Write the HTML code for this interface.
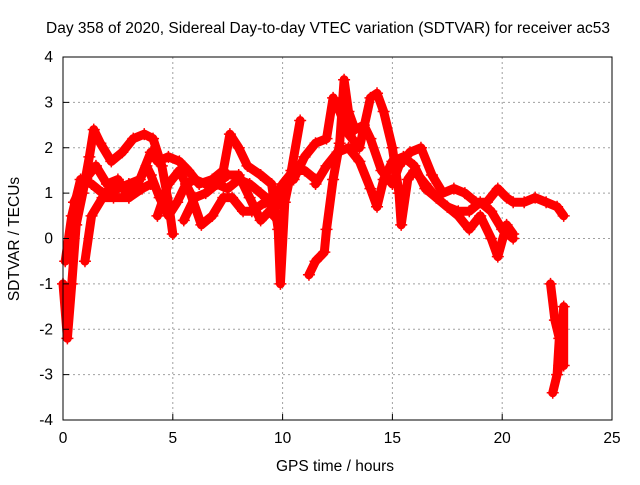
<!DOCTYPE html>
<html><head><meta charset="utf-8"><style>
body{margin:0;background:#fff}
svg text{font-family:"Liberation Sans",sans-serif;font-size:15.5px;fill:#000}
</style></head><body>
<svg id="chart" width="640" height="480" xmlns="http://www.w3.org/2000/svg">
<rect x="0" y="0" width="640" height="480" fill="#fff"/>
<g id="grid"></g>
<g id="series"></g>
<rect x="63" y="57" width="549" height="363" fill="none" stroke="#000" stroke-width="1"/>
<g id="axes"></g>
<text x="328" y="33" text-anchor="middle">Day 358 of 2020, Sidereal Day-to-day VTEC variation (SDTVAR) for receiver ac53</text>
<text x="335" y="471" text-anchor="middle">GPS time / hours</text>
<text x="0" y="0" text-anchor="middle" transform="translate(19,239) rotate(-90)">SDTVAR / TECUs</text>
</svg>
<script>
const xTicks=[0,5,10,15,20,25];
const yTicks=[-4,-3,-2,-1,0,1,2,3,4];
const track1=[[0,-1],[0.2,-2.2],[0.4,-1],[0.6,0.3],[0.9,1.0],[1.2,1.8],[1.4,2.4],[1.7,2.1],[2.2,1.7],[2.7,1.9],[3.2,2.2],[3.7,2.3],[4.1,2.2],[4.5,1.6],[4.8,0.8],[5.0,0.1]];
const track2=[[0.1,-0.5],[0.4,0.5],[0.8,1.3],[1.3,1.2],[1.8,1.0],[2.5,1.1],[3.0,1.2],[3.5,1.3],[4.0,1.9],[4.3,1.7],[4.8,1.8],[5.3,1.7],[5.7,1.5],[6.2,1.2],[6.8,1.3],[7.3,1.5],[7.6,2.3],[8.0,2.0],[8.4,1.6],[9.0,1.4],[9.5,1.2],[9.8,0.2],[9.9,-1.0],[10.1,0.8],[10.4,1.5],[10.8,2.6]];
const track3=[[1.0,-0.5],[1.3,0.5],[1.8,0.9],[2.3,0.9],[3.0,0.9],[3.4,1.2],[3.8,1.6],[4.0,1.4],[4.4,0.9],[4.8,0.5],[5.2,0.8],[5.6,1.2],[6.0,1.3],[6.5,1.2],[7.0,1.2],[7.5,1.1],[8.0,1.3],[8.5,1.2],[9.0,1.0],[9.5,0.8],[10,1.2],[10.5,1.5],[11.0,1.5],[11.5,1.3]];
const track4=[[4.3,0.5],[4.8,1.2],[5.3,1.5],[5.8,1.0],[6.3,0.3],[6.8,0.5],[7.3,0.9],[7.7,0.9],[8.2,0.6],[8.6,0.6],[9.2,0.8],[9.7,0.7],[10.0,1.0]];
const track5=[[5.5,0.4],[6.0,0.9],[6.5,1.0],[7.0,1.2],[7.5,1.4],[8.0,1.4],[8.5,0.9],[9.0,0.4],[9.4,0.6],[9.8,0.4]];
const track6=[[11.2,-0.8],[11.5,-0.5],[11.9,-0.3],[12.0,0.2],[12.3,1.3],[12.6,2.1],[12.8,3.5],[13.0,2.8],[13.3,2.4],[13.7,2.5],[14.0,2.2],[14.5,1.5],[15.0,1.2],[15.3,1.6],[15.8,1.9],[16.3,2.0],[16.8,1.4],[17.3,1.0],[17.8,1.1],[18.3,1.0],[18.8,0.8],[19.3,0.8],[19.8,1.1],[20.2,0.9],[20.5,0.8],[21,0.8],[21.5,0.9],[22,0.8],[22.5,0.7],[22.8,0.5]];
const track7=[[10.5,1.3],[11,1.8],[11.5,2.1],[12,2.2],[12.3,3.1],[12.6,2.8],[13.0,2.3],[13.5,2.0],[14.0,3.1],[14.3,3.2],[14.6,2.8],[15.0,2.0],[15.3,1.0],[15.4,0.3],[15.7,1.3],[16.0,1.5],[16.5,1.2],[17.0,0.9],[17.5,0.7],[18.0,0.5],[18.5,0.2],[19.0,0.5],[19.5,0.0],[19.8,-0.4],[20.2,0.3],[20.5,0.1]];
const track8=[[11.5,1.2],[12,1.6],[12.5,1.9],[13,2.0],[13.5,1.7],[14,1.1],[14.3,0.7],[14.6,1.3],[15,1.7],[15.5,1.8],[16,1.6],[16.5,1.1],[17,0.9],[17.5,0.7],[18,0.6],[18.5,0.6],[19,0.8],[19.5,0.6],[20,0.2],[20.5,0.0]];
const track9=[[22.2,-1.0],[22.4,-1.8],[22.6,-2.2],[22.5,-3.0],[22.3,-3.4],[22.6,-2.8],[22.7,-2.5],[22.8,-1.5],[22.8,-2.8]];
const track10=[[0.5,0.8],[1,1.3],[1.5,1.6],[2,1.2],[2.5,1.3],[3,0.9],[3.6,1.1],[4,1.2]];
const tracks=[track1,track2,track3,track4,track5,track6,track7,track8,track9,track10];
const NS="http://www.w3.org/2000/svg";
const X=v=>63+v*(549/25), Y=v=>238.5-v*(363/8);
const grid=document.getElementById('grid'),axes=document.getElementById('axes'),ser=document.getElementById('series');
function mk(t,a,p){const e=document.createElementNS(NS,t);for(const k in a)e.setAttribute(k,a[k]);p.appendChild(e);return e;}
xTicks.forEach(v=>{
 if(v>0&&v<25){const g=mk('line',{x1:X(v),x2:X(v),y1:57,y2:420,stroke:'#a0a0a0','stroke-dasharray':'2,3'},grid);
 
 }
 const t=mk('text',{x:X(v),y:443,'text-anchor':'middle'},axes);t.textContent=v;
 
 
 const l1=mk('line',{x1:X(v),x2:X(v),y1:420,y2:414,stroke:'#000'},axes);
 
 
});
yTicks.forEach(v=>{
 if(v>-4&&v<4){const g=mk('line',{x1:63,x2:612,y1:Y(v),y2:Y(v),stroke:'#a0a0a0','stroke-dasharray':'2,3'},grid);
 
 }
 const t=mk('text',{x:53,y:Y(v)+5,'text-anchor':'end'},axes);t.textContent=v;
 
 
 const l1=mk('line',{x1:63,x2:69,y1:Y(v),y2:Y(v),stroke:'#000'},axes);
 
 
});
tracks.forEach((tr,i)=>{
 const pl=mk('polyline',{points:tr.map(p=>X(p[0])+','+Y(p[1])).join(' '),fill:'none',stroke:'#ff0000','stroke-width':9,'stroke-linejoin':'round','stroke-linecap':'round'},ser);
 
 
 tr.forEach(p=>{
  const m=mk('path',{d:`M${X(p[0])-6},${Y(p[1])}h12M${X(p[0])},${Y(p[1])-6}v12`,stroke:'#ff0000','stroke-width':1.5},ser);
  
  
 });
});
</script>
</body></html>
